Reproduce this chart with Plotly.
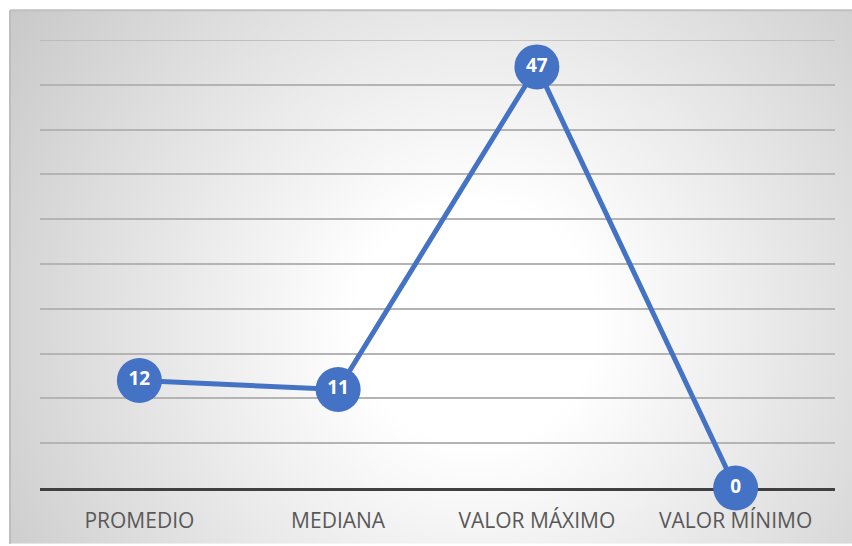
import base64
import plotly.graph_objects as go

# Summary statistics shown on the chart
categorias = ["PROMEDIO", "MEDIANA", "VALOR MÁXIMO", "VALOR MÍNIMO"]
valores = [12, 11, 47, 0]
y_max = 50
y_step = 5

W, H = 852, 546
L, R, T, B = 40, 17, 40, 56
plot_w = W - L - R
plot_h = H - T - B
grid_color = "#b4b4b4"

# Radial gradient for the chart area background (white centre, grey edges)
svg = f"""<svg xmlns='http://www.w3.org/2000/svg' width='842' height='536' viewBox='0 0 842 536'>
<defs><radialGradient id='g' gradientUnits='userSpaceOnUse' cx='465' cy='315' r='600'>
<stop offset='0' stop-color='#ffffff'/><stop offset='0.2' stop-color='#ffffff'/>
<stop offset='1' stop-color='#c4c4c4'/></radialGradient></defs>
<rect width='842' height='536' fill='url(#g)'/></svg>"""
bg_src = "data:image/svg+xml;base64," + base64.b64encode(svg.encode()).decode()

def px_to_paper_x(px):
    return (px - L) / plot_w

def px_to_paper_y(py):
    return (H - B - py) / plot_h

x0, x1 = px_to_paper_x(10), px_to_paper_x(W)
y1, y0 = px_to_paper_y(10), px_to_paper_y(H)

fig = go.Figure()
fig.add_trace(go.Scatter(
    x=categorias, y=valores,
    mode="lines+markers+text",
    line=dict(color="#4472C4", width=5),
    marker=dict(size=45, color="#4472C4"),
    text=[str(v) for v in valores],
    textposition="middle center",
    textfont=dict(family="Open Sans", size=19, color="white", weight="bold"),
    cliponaxis=False,
    hoverinfo="skip",
))

fig.update_layout(
    width=W, height=H,
    margin=dict(l=L, r=R, t=T, b=B),
    paper_bgcolor="white",
    plot_bgcolor="rgba(0,0,0,0)",
    showlegend=False,
    images=[dict(source=bg_src, xref="paper", yref="paper",
                 x=x0, y=y1, sizex=x1 - x0, sizey=y1 - y0,
                 xanchor="left", yanchor="top", sizing="stretch",
                 layer="below")],
    shapes=[
        dict(type="line", xref="paper", yref="paper", x0=x0, x1=x1, y0=y1, y1=y1,
             line=dict(color="#c0c0c0", width=2), layer="below"),
        dict(type="line", xref="paper", yref="paper", x0=x0, x1=x0, y0=y0, y1=y1,
             line=dict(color="#bdbdbd", width=2), layer="below"),
        # top gridline sits on the edge of the value range
        dict(type="line", xref="paper", yref="y", x0=0, x1=1, y0=y_max, y1=y_max,
             line=dict(color=grid_color, width=1.5), layer="below"),
    ],
    xaxis=dict(
        range=[-0.5, 3.5],
        showgrid=False, showline=True, linecolor="#404040", linewidth=3,
        ticks="", tickfont=dict(family="Open Sans", size=21, color="#595959"),
        ticklabelstandoff=12, layer="below traces", fixedrange=True,
    ),
    yaxis=dict(
        range=[0, y_max], dtick=y_step, showgrid=True, gridcolor=grid_color, gridwidth=1.5,
        showticklabels=False, zeroline=False, showline=False, ticks="",
        layer="below traces", fixedrange=True,
    ),
)

fig.write_html("out.html")
